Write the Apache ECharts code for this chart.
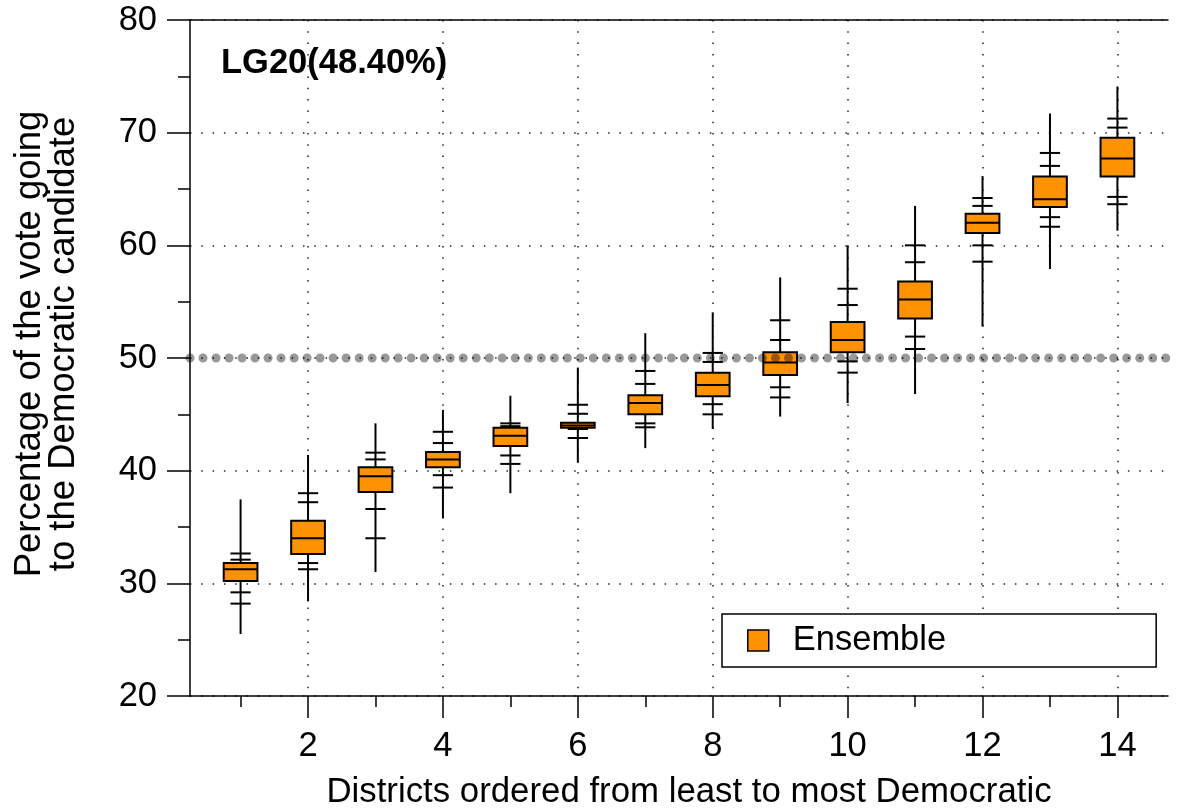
<!DOCTYPE html>
<html>
<head>
<meta charset="utf-8">
<script src="https://cdn.jsdelivr.net/npm/echarts@6/dist/echarts.min.js"></script>
<style>
html,body{margin:0;padding:0;background:#fff;}
#chart{width:1182px;height:812px;}
</style>
</head>
<body>
<div id="chart"></div>
<script>
// ---- data ----
const districts   = [1, 2, 3, 4, 5, 6, 7, 8, 9, 10, 11, 12, 13, 14];
const whiskerLow  = [25.5, 28.4, 31.0, 35.8, 38.0, 40.7, 42.0, 43.7, 44.8, 46.0, 46.8, 52.8, 57.9, 61.3];
const tickLow2    = [28.2, 31.25, 34.0, 38.5, 40.6, 42.9, 43.85, 45.0, 46.5, 48.7, 50.8, 58.55, 61.65, 63.65];
const tickLow1    = [29.2, 31.8, 36.6, 39.6, 41.35, 43.7, 44.2, 45.9, 47.4, 49.7, 51.9, 60.0, 62.5, 64.3];
const q1          = [30.2, 32.6, 38.1, 40.3, 42.2, 43.8, 45.0, 46.6, 48.5, 50.5, 53.5, 61.1, 63.4, 66.1];
const median      = [31.25, 34.0, 39.5, 41.0, 43.1, 44.0, 46.0, 47.6, 49.6, 51.6, 55.2, 62.0, 64.1, 67.7];
const q3          = [31.8, 35.55, 40.3, 41.65, 43.8, 44.25, 46.7, 48.7, 50.5, 53.2, 56.8, 62.8, 66.1, 69.55];
const tickHigh1   = [32.1, 37.2, 41.0, 42.45, 43.95, 45.05, 47.7, 49.65, 51.6, 54.7, 58.5, 63.5, 67.05, 70.45];
const tickHigh2   = [32.65, 38.0, 41.6, 43.45, 44.2, 45.85, 48.85, 50.45, 53.35, 56.15, 60.0, 64.2, 68.2, 71.25];
const whiskerHigh = [37.45, 41.4, 44.2, 45.4, 46.65, 49.15, 52.2, 54.05, 57.15, 60.0, 63.5, 66.15, 71.7, 74.1];

const xMajorTicks = [2, 4, 6, 8, 10, 12, 14];
const xMinorTicks = [1, 3, 5, 7, 9, 11, 13];
const xRange = [0.25, 14.75];
const yRange = [20, 80];
const yInterval = 10;
const referenceLevel = 50;
const seriesName = 'Ensemble';
const titleText = 'LG20(48.40%)';
const xAxisName = 'Districts ordered from least to most Democratic';
const yAxisName = 'Percentage of the vote going\nto the Democratic candidate';

// ---- styling ----
const FONT = '"Liberation Sans", Arial, Helvetica, sans-serif';
const ORANGE = '#ff9200';
const BOX_W = 0.5;
const TICK_W = 0.3;
const GRID_DASH = [1.5, 9.8];

const boxData = districts.map((d, i) => [d, whiskerLow[i], tickLow2[i], tickLow1[i], q1[i], median[i], q3[i], tickHigh1[i], tickHigh2[i], whiskerHigh[i]]);

function renderItem(params, api) {
  const x = api.value(0);
  const v = [];
  for (let k = 1; k <= 9; k++) v.push(api.value(k));
  const [wl, l2, l1, bq1, med, bq3, h1, h2, wh] = v;
  const halfBox = api.size([BOX_W, 0])[0] / 2;
  const halfTick = api.size([TICK_W, 0])[0] / 2;
  const c = (yv) => api.coord([x, yv]);
  const lineStyle = { stroke: '#000', lineWidth: 2 };
  const children = [];
  const pLow = c(wl), pHigh = c(wh);
  children.push({ type: 'line', shape: { x1: pLow[0], y1: pLow[1], x2: pHigh[0], y2: pHigh[1] }, style: lineStyle });
  [l2, l1, h1, h2].forEach(t => {
    const p = c(t);
    children.push({ type: 'line', shape: { x1: p[0] - halfTick, y1: p[1], x2: p[0] + halfTick, y2: p[1] }, style: lineStyle });
  });
  const pq3 = c(bq3), pq1 = c(bq1), pm = c(med);
  children.push({ type: 'rect', shape: { x: pq3[0] - halfBox, y: pq3[1], width: halfBox * 2, height: pq1[1] - pq3[1] },
    style: { fill: ORANGE, stroke: '#000', lineWidth: 2 } });
  children.push({ type: 'line', shape: { x1: pm[0] - halfBox, y1: pm[1], x2: pm[0] + halfBox, y2: pm[1] }, style: lineStyle });
  return { type: 'group', children };
}

const chart = echarts.init(document.getElementById('chart'), null, { renderer: 'canvas' });

const option = {
  backgroundColor: '#fff',
  animation: false,
  textStyle: { fontFamily: FONT },
  title: {
    text: titleText,
    left: 221, top: 46, padding: 0,
    textStyle: { fontFamily: FONT, fontSize: 34.5, fontWeight: 'bold', color: '#000' }
  },
  legend: {
    data: [seriesName],
    left: 722, top: 614,
    orient: 'horizontal',
    icon: 'rect',
    itemWidth: 21, itemHeight: 21,
    padding: [9, 210, 9, 25],
    backgroundColor: '#fff',
    borderColor: '#000', borderWidth: 1.5,
    itemStyle: { color: ORANGE, borderColor: '#000', borderWidth: 1.5 },
    formatter: '{a|{name}}',
    textStyle: {
      fontFamily: FONT, fontSize: 34.5, color: '#000',
      rich: { a: { fontFamily: FONT, fontSize: 34.5, color: '#000', padding: [0, 0, 0, 19] } }
    }
  },
  grid: { left: 190, right: 14, top: 20, bottom: 116, containLabel: false, outerBoundsMode: 'none' },
  xAxis: [
    {
      type: 'value', position: 'bottom', min: xRange[0], max: xRange[1],
      name: xAxisName, nameLocation: 'middle', nameGap: 79,
      nameTextStyle: { fontFamily: FONT, fontSize: 34.8, color: '#000', padding: [0, 0, 0, 20] },
      axisLine: { show: true, onZero: false, lineStyle: { color: '#000', width: 1.5 } },
      axisTick: { show: true, inside: false, length: 22, customValues: xMajorTicks, lineStyle: { color: '#000', width: 1.5 } },
      axisLabel: { show: true, customValues: xMajorTicks, margin: 33, fontFamily: FONT, fontSize: 34.5, color: '#000' },
      splitLine: { show: true, lineStyle: { color: '#222', width: 1.5, type: GRID_DASH } },
      minorTick: { show: false }
    },
    {
      type: 'value', position: 'bottom', min: xRange[0], max: xRange[1], offset: 0,
      axisLine: { show: false },
      axisTick: { show: true, inside: false, length: 11, customValues: xMinorTicks, lineStyle: { color: '#000', width: 1.5 } },
      axisLabel: { show: false },
      splitLine: { show: false }
    },
    {
      type: 'value', position: 'top', min: xRange[0], max: xRange[1], offset: 0,
      axisLine: { show: true, onZero: false, lineStyle: { color: '#000', width: 1.5 } },
      axisTick: { show: false },
      axisLabel: { show: false },
      splitLine: { show: false }
    }
  ],
  yAxis: {
    type: 'value', min: yRange[0], max: yRange[1], interval: yInterval,
    name: yAxisName, nameLocation: 'middle', nameGap: 109, nameRotate: 90,
    nameTextStyle: { fontFamily: FONT, fontSize: 36.5, lineHeight: 34, color: '#000', align: 'center', padding: [0, 0, 0, 28] },
    axisLine: { show: true, onZero: false, lineStyle: { color: '#000', width: 1.5 } },
    axisTick: { show: true, inside: false, length: 23, lineStyle: { color: '#000', width: 1.5 } },
    minorTick: { show: true, splitNumber: 2, length: 12, lineStyle: { color: '#000', width: 1.5 } },
    axisLabel: { margin: 33, fontFamily: FONT, fontSize: 34.5, color: '#000' },
    splitLine: { show: true, lineStyle: { color: '#222', width: 1.5, type: GRID_DASH } }
  },
  series: [
    {
      name: seriesName,
      type: 'custom',
      xAxisIndex: 0, yAxisIndex: 0,
      renderItem: renderItem,
      encode: { x: 0, y: [1, 2, 3, 4, 5, 6, 7, 8, 9] },
      itemStyle: { color: ORANGE, borderColor: '#000', borderWidth: 1.5 },
      data: boxData,
      z: 2
    },
    {
      name: 'reference',
      type: 'line',
      xAxisIndex: 0, yAxisIndex: 0,
      data: [[xRange[0], referenceLevel], [xRange[1], referenceLevel]],
      symbol: 'none',
      silent: true,
      lineStyle: { color: 'rgba(0,0,0,0.4)', width: 9, type: [0.01, 13], cap: 'round' },
      z: 3
    }
  ]
};

chart.setOption(option);
</script>
</body>
</html>
